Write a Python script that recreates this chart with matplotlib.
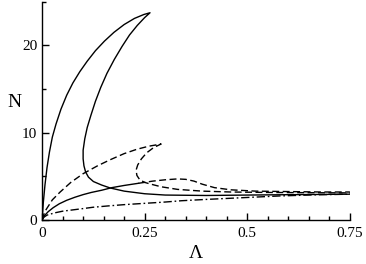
"""N versus Lambda curves, redrawn in matplotlib"""
import matplotlib
matplotlib.use("Agg")
import matplotlib.pyplot as plt  # type: ignore
from matplotlib.ticker import MultipleLocator

plt.rcParams['font.family'] = ['Liberation Serif', 'DejaVu Serif']

# solid curve with the big loop (outer branch, tip, inner branch, tail)
lam_a = [0, 0.003, 0.007, 0.012, 0.018, 0.025, 0.034, 0.046, 0.06, 0.075, 0.092, 0.11,
         0.13, 0.152, 0.175, 0.2, 0.225, 0.248, 0.263,
         0.25, 0.232, 0.213, 0.195, 0.176, 0.158, 0.143, 0.13, 0.119, 0.11, 0.104,
         0.1, 0.1, 0.102, 0.106, 0.113, 0.125, 0.145, 0.166, 0.2, 0.25, 0.3, 0.4, 0.5, 0.62, 0.75]
n_a = [0, 2.0, 4.0, 6.0, 7.8, 9.5, 11.0, 12.7, 14.3, 15.7, 17.0, 18.2,
       19.4, 20.5, 21.5, 22.4, 23.1, 23.55, 23.75,
       23.2, 22.3, 21.2, 19.9, 18.4, 16.8, 15.2, 13.6, 12.0, 10.6, 9.3,
       8.0, 7.0, 6.2, 5.5, 4.9, 4.4, 4.0, 3.66, 3.3, 3.0, 2.85, 2.8, 2.85, 2.9, 2.95]

# dashed curve with the smaller fold
lam_c = [0, 0.004, 0.01, 0.025, 0.044, 0.07, 0.1, 0.135, 0.166, 0.2, 0.231,
         0.26, 0.29,
         0.272, 0.255, 0.242, 0.233, 0.229, 0.231, 0.238, 0.25, 0.265,
         0.29, 0.33, 0.39, 0.46, 0.55, 0.65, 0.75]
n_c = [0, 0.6, 1.2, 2.3, 3.2, 4.3, 5.3, 6.2, 6.9, 7.6, 8.1,
       8.45, 8.7,
       8.3, 7.7, 7.0, 6.3, 5.7, 5.1, 4.6, 4.3, 4.1,
       3.8, 3.5, 3.3, 3.2, 3.15, 3.12, 3.1]

# lower curve: solid rise, dashed hump
lam_b1 = [0, 0.006, 0.015, 0.027, 0.042, 0.06, 0.08, 0.1, 0.12, 0.145, 0.17, 0.2, 0.235]
n_b1 = [0, 0.5, 0.95, 1.4, 1.85, 2.25, 2.6, 2.9, 3.15, 3.4, 3.7, 3.95, 4.2]
lam_b2 = [0.235, 0.27, 0.3, 0.33, 0.35, 0.37, 0.39, 0.42, 0.46, 0.52, 0.6, 0.68, 0.75]
n_b2 = [4.2, 4.45, 4.6, 4.7, 4.65, 4.45, 4.1, 3.7, 3.45, 3.3, 3.25, 3.2, 3.2]

# dash-dot curve
lam_d = [0, 0.004, 0.012, 0.03, 0.05, 0.075, 0.1, 0.124, 0.16, 0.2, 0.25, 0.3, 0.34,
         0.4, 0.49, 0.58, 0.67, 0.75]
n_d = [0, 0.3, 0.55, 0.8, 1.0, 1.15, 1.3, 1.45, 1.6, 1.75, 1.9, 2.05, 2.2,
       2.35, 2.55, 2.75, 2.88, 2.95]

fig = plt.figure(figsize=(3.66, 2.64), dpi=100)
ax = fig.add_axes([0.115, 0.167, 0.841, 0.826])

lw = 1.0
ax.plot(lam_a, n_a, color='black', lw=lw)
ax.plot(lam_c, n_c, color='black', lw=lw, dashes=(5, 2.5))
ax.plot(lam_b1, n_b1, color='black', lw=lw)
ax.plot(lam_b2, n_b2, color='black', lw=lw, dashes=(5, 2.5))
ax.plot(lam_d, n_d, color='black', lw=lw, dashes=(6, 2, 1.2, 2))

ax.set_xlim(0, 0.75)
ax.set_ylim(0, 25)
ax.spines['top'].set_visible(False)
ax.spines['right'].set_visible(False)
for s in ('left', 'bottom'):
    ax.spines[s].set_linewidth(1.0)

ax.set_xticks([0, 0.25, 0.5, 0.75])
ax.set_xticklabels(['0', '0.25', '0.5', '0.75'])
ax.set_yticks([0, 10, 20])
ax.xaxis.set_minor_locator(MultipleLocator(0.05))
ax.yaxis.set_minor_locator(MultipleLocator(5))
ax.tick_params(which='both', direction='in', width=1.0, labelsize=11)
ax.tick_params(which='major', length=5)
ax.tick_params(axis='x', which='major', pad=5)
ax.tick_params(which='minor', length=3)

ax.set_xlabel('Λ', fontsize=14, labelpad=4)
ax.set_ylabel('N', fontsize=14, rotation=0, labelpad=10)
ax.yaxis.set_label_coords(-0.09, 0.5)

fig.savefig('out.png', dpi=100)
